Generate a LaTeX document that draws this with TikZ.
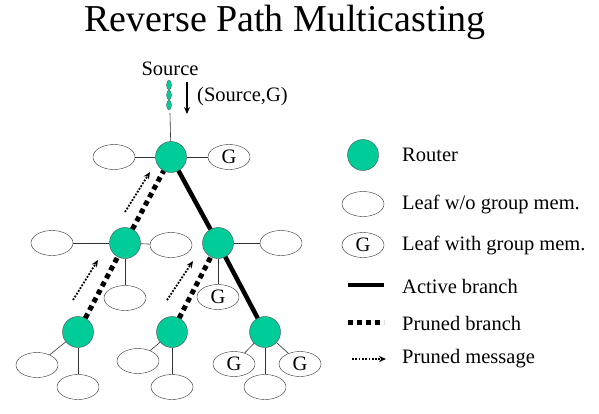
\documentclass[tikz,border=0pt]{standalone}
\usepackage{fontspec}
\setmainfont{Liberation Serif}
\usetikzlibrary{arrows.meta,shapes.geometric}

\definecolor{routergreen}{RGB}{0,204,153}

\tikzset{
  router/.style={circle,draw=black!70,fill=routergreen,minimum size=31pt,inner sep=0pt},
  leaf/.style={ellipse,draw=black!80,fill=white,minimum width=42pt,minimum height=25pt,inner sep=0pt,font=\fontsize{20.5}{22}\selectfont},
  srcdot/.style={ellipse,draw=black!60,fill=routergreen,minimum width=5pt,minimum height=10pt,inner sep=0pt},
  thin/.style={draw=black!80,line width=0.6pt},
  active/.style={draw=black,line width=4.5pt},
  pruned/.style={draw=black,line width=5pt,dash pattern=on 5pt off 4pt},
  prunemsg/.style={draw=black,line width=1.8pt,dash pattern=on 1.8pt off 1.5pt,-{Stealth[length=7pt,width=6pt]}},
  legtext/.style={anchor=west,font=\fontsize{20.5}{22}\selectfont,inner sep=0pt}
}

\begin{document}
\begin{tikzpicture}[x=1pt,y=-1pt]
\useasboundingbox (0,0) rectangle (599,413);
\node (title) at (285,22) {\fontsize{38}{40}\selectfont Reverse Path Multicasting};

% source
\node (src) at (170,69) {\fontsize{20.5}{22}\selectfont Source};
\node[srcdot] (s1) at (169,85) {};
\node[srcdot] (s2) at (169,95) {};
\node[srcdot] (s3) at (169,105) {};
\coordinate (s_end) at (170,113);
\coordinate (a_top) at (187,82);
\coordinate (a_bot) at (187,114);
\draw[line width=1.6pt,-{Stealth[length=7pt,width=6pt]}] (a_top) -- (a_bot);
\node[legtext] (sg) at (197,97) {(Source,G)};

% routers
\node[router] (r_0) at (171,157) {};
\node[router] (r_1) at (125,243) {};
\node[router] (r_2) at (218,243) {};
\node[router] (r_3) at (78,332) {};
\node[router] (r_4) at (172,332) {};
\node[router] (r_5) at (265,332) {};

% leaves
\node[leaf] (l_0a) at (114,157) {};
\node[leaf] (l_0b) at (229,157) {G};
\node[leaf] (l_1a) at (52,243) {};
\node[leaf] (l_1b) at (171,245) {};
\node[leaf] (l_1c) at (125,298) {};
\node[leaf] (l_2a) at (281,243) {};
\node[leaf] (l_2b) at (218,297) {G};
\node[leaf] (l_3a) at (37,365) {};
\node[leaf] (l_3b) at (78,387) {};
\node[leaf] (l_4a) at (138,361) {};
\node[leaf] (l_4b) at (172,387) {};
\node[leaf] (l_5a) at (234,364) {G};
\node[leaf] (l_5b) at (265,387) {};
\node[leaf] (l_5c) at (300,364) {G};

\path[thin]
  (s_end) edge (r_0)
  (r_0) edge (l_0a)
  (r_0) edge (l_0b)
  (r_1) edge (l_1a)
  (r_1) edge (l_1b)
  (r_1) edge (l_1c)
  (r_2) edge (l_2a)
  (r_2) edge (l_2b)
  (r_3) edge (l_3a)
  (r_3) edge (l_3b)
  (r_4) edge (l_4a)
  (r_4) edge (l_4b)
  (r_5) edge (l_5a)
  (r_5) edge (l_5b)
  (r_5) edge (l_5c);

\path[active]
  (r_0) edge (r_2)
  (r_2) edge (r_5);
\path[pruned]
  (r_1) edge (r_0)
  (r_3) edge (r_1)
  (r_4) edge (r_2);

% prune messages
\coordinate (m1_s) at (125,212);
\coordinate (m1_e) at (150,172);
\coordinate (m2_s) at (73,300);
\coordinate (m2_e) at (98,260);
\coordinate (m3_s) at (167,300);
\coordinate (m3_e) at (193,261);
\draw[prunemsg] (m1_s) -- (m1_e);
\draw[prunemsg] (m2_s) -- (m2_e);
\draw[prunemsg] (m3_s) -- (m3_e);

% legend
\node[router] (k_router) at (363,155) {};
\node[leaf] (k_leaf) at (363,204) {};
\node[leaf] (k_gleaf) at (363,245) {G};
\coordinate (k_a1) at (348,285);
\coordinate (k_a2) at (384,285);
\coordinate (k_p1) at (348,322);
\coordinate (k_p2) at (384,322);
\coordinate (k_m1) at (352,359);
\coordinate (k_m2) at (386,359);
\draw[active] (k_a1) -- (k_a2);
\draw[pruned] (k_p1) -- (k_p2);
\draw[prunemsg] (k_m1) -- (k_m2);
\node[legtext] (t_router) at (402,155) {Router};
\node[legtext] (t_leaf) at (402,204) {Leaf w/o group mem.};
\node[legtext] (t_gleaf) at (402,245) {Leaf with group mem.};
\node[legtext] (t_active) at (402,286) {Active branch};
\node[legtext] (t_pruned) at (402,323) {Pruned branch};
\node[legtext] (t_msg) at (402,359) {Pruned message};
\end{tikzpicture}
\end{document}
